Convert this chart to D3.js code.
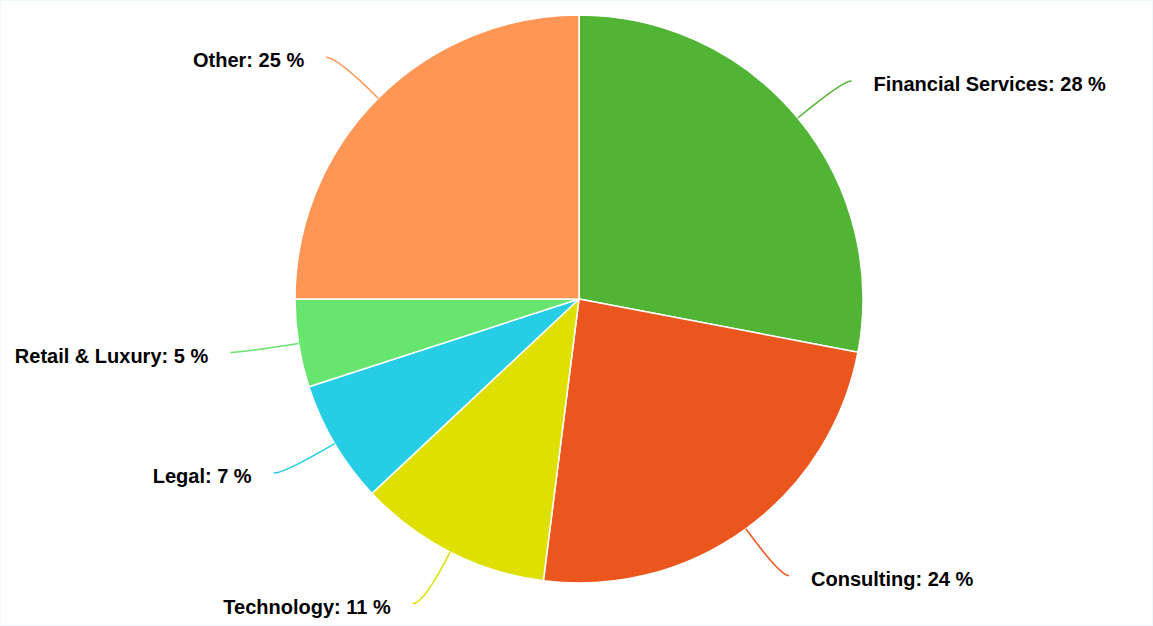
<!DOCTYPE html>
<html>
<head>
<meta charset="utf-8">
<script src="https://cdn.jsdelivr.net/npm/d3@7"></script>
<style>
  html, body { margin: 0; padding: 0; background: #fff; }
  #chart { width: 1153px; height: 626px; box-sizing: border-box; border: 1px solid #eef9fb; }
  svg { display: block; }
</style>
</head>
<body>
<div id="chart"></div>
<script>
// slice data, clockwise from 12 o'clock
var categories = ["Financial Services", "Consulting", "Technology", "Legal", "Retail & Luxury", "Other"];
var shares = [28, 24, 11, 7, 5, 25];
var colors = ["#52b435", "#eb561e", "#dde000", "#26cde5", "#67e56f", "#ff9655"];

var width = 1151, height = 624;
var cx = 578, cy = 298, radius = 284;

var svg = d3.select("#chart").append("svg")
    .attr("width", width)
    .attr("height", height);

var pie = d3.pie().sort(null).value(function (d) { return d; });
var arcs = pie(shares);

var arc = d3.arc().innerRadius(0).outerRadius(radius);

var g = svg.append("g").attr("transform", "translate(" + cx + "," + cy + ")");

g.selectAll("path.slice")
    .data(arcs)
    .enter().append("path")
    .attr("class", "slice")
    .attr("d", arc)
    .attr("fill", function (d, i) { return colors[i]; })
    .attr("stroke", "#fff")
    .attr("stroke-width", 1.5)
    .attr("stroke-linejoin", "round");

// polar helper, angle clockwise from top
function polar(a, r) {
    return { x: r * Math.sin(a), y: -r * Math.cos(a) };
}

var bendR = radius + 58;

arcs.forEach(function (d, i) {
    var mid = (d.startAngle + d.endAngle) / 2;
    var right = Math.sin(mid) >= 0;
    var p0 = polar(mid, radius);
    var c = polar(mid, bendR);
    var end = { x: c.x + (right ? 9 : -11), y: c.y };

    g.append("path")
        .attr("d", "M" + p0.x + "," + p0.y + " Q" + c.x + "," + c.y + " " + end.x + "," + end.y)
        .attr("fill", "none")
        .attr("stroke", colors[i])
        .attr("stroke-width", 1.5);

    g.append("text")
        .attr("x", end.x + (right ? 22 : -22))
        .attr("y", end.y + 3)
        .attr("dy", "0.35em")
        .attr("text-anchor", right ? "start" : "end")
        .style("font-family", "'Liberation Sans', Arial, sans-serif")
        .style("font-weight", "bold")
        .style("font-size", "20px")
        .style("fill", "#000")
        .text(categories[i] + ": " + shares[i] + " %");
});
</script>
</body>
</html>
